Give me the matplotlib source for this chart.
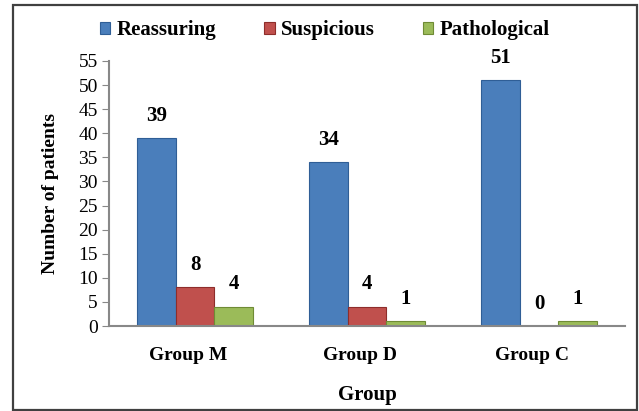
import matplotlib.pyplot as plt
import matplotlib.patches as mpatches
import numpy as np

# ─── DATOS ───────────────────────────────────────────────────────────────────
grupos       = ['Group M', 'Group D', 'Group C']
series       = ['Reassuring', 'Suspicious', 'Pathological']
reassuring   = [39, 34, 51]
suspicious   = [8, 4, 0]
pathological = [4, 1, 1]
yticks       = list(range(0, 56, 5))

colores = ['#4A7EBB', '#C0504D', '#9BBB59']
bordes  = ['#2F5E96', '#8E2D2B', '#6F8B35']

plt.rcParams['font.family'] = ['Liberation Serif', 'DejaVu Serif']

fig = plt.figure(figsize=(6.39, 4.11), dpi=100)
ax = fig.add_axes([0.1706, 0.2068, 0.978 - 0.1706, 0.8516 - 0.2068])

# borde exterior
fig.patches.append(mpatches.Rectangle((13/639, 1 - 410/411), 624/639, 405/411,
                                      transform=fig.transFigure, fill=False,
                                      edgecolor='#404040', linewidth=1.6))

x     = np.arange(len(grupos))
ancho = 0.225

for i, vals in enumerate([reassuring, suspicious, pathological]):
    pos = x + (i - 1) * ancho
    barras = ax.bar(pos, vals, ancho, color=colores[i], edgecolor=bordes[i],
                    linewidth=0.8, label=series[i])
    for b, v in zip(barras, vals):
        ax.annotate(f'{v}', (b.get_x() + b.get_width()/2, v),
                    xytext=(0, 9), textcoords='offset points',
                    ha='center', va='bottom', fontsize=15, fontweight='bold')

ax.set_xlim(-0.5, 2.5)
ax.set_ylim(0, 55)
ax.set_yticks(yticks)
ax.tick_params(axis='y', labelsize=14, length=5, color='#888888', direction='out', pad=3)
ax.tick_params(axis='x', length=0, labelsize=14, pad=15)
ax.set_xticks(x - 0.04)
ax.set_xticklabels(grupos, fontweight='bold')

for s in ['top', 'right']:
    ax.spines[s].set_visible(False)
for s in ['left', 'bottom']:
    ax.spines[s].set_color('#888888')
    ax.spines[s].set_linewidth(1.5)

ax.set_ylabel('Number of patients', fontsize=14, fontweight='bold', labelpad=14)
ax.set_xlabel('Group', fontsize=15, fontweight='bold', labelpad=15)

ax.legend(loc='center', bbox_to_anchor=(0.418, 1.117), ncol=3, frameon=False,
          prop={'weight': 'bold', 'size': 15}, handlelength=0.5, handleheight=0.5,
          handletextpad=0.3, columnspacing=2.3, borderaxespad=0)

fig.savefig('out.png', dpi=100)
